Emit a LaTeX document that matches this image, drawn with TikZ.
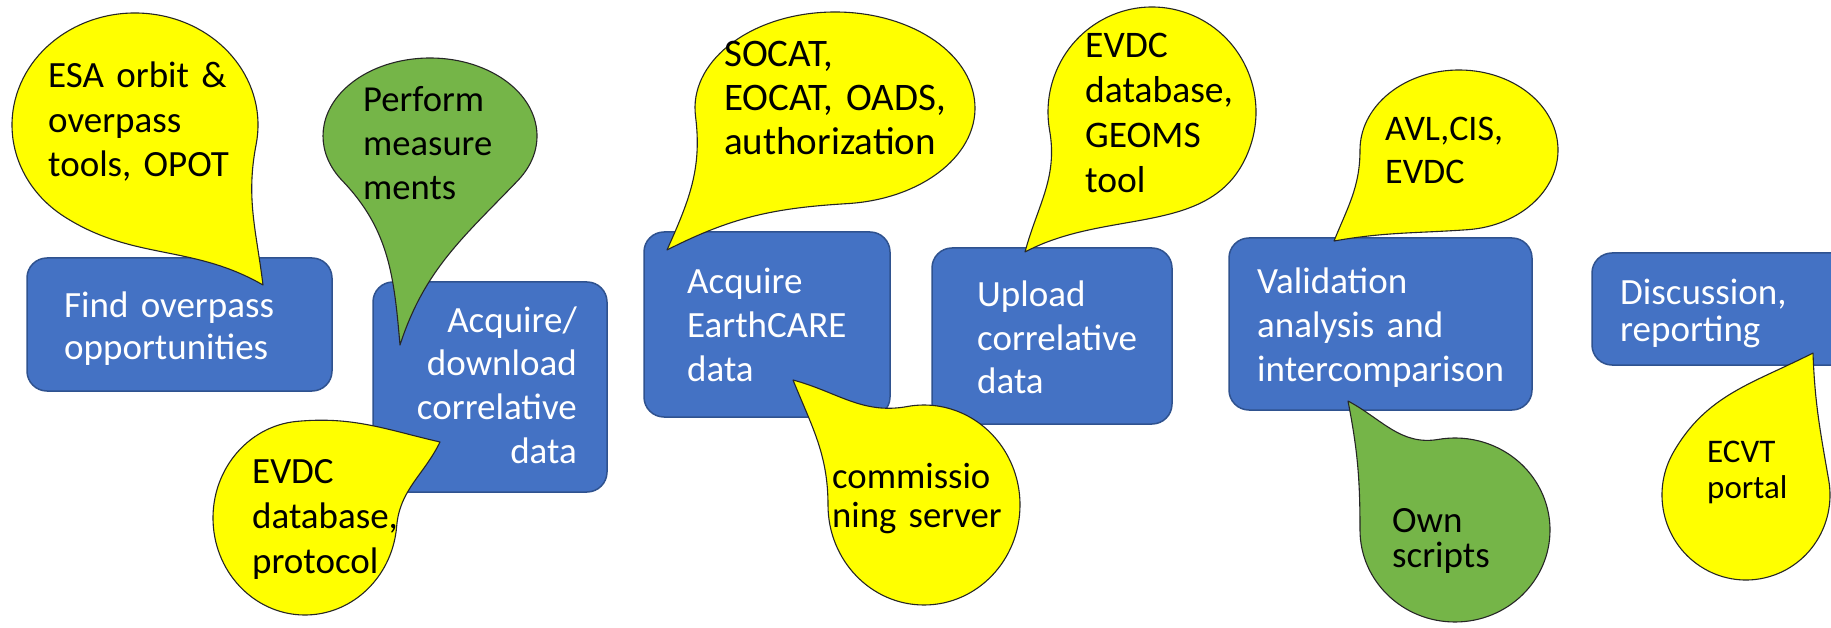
\documentclass[tikz,border=0pt]{standalone}
\usepackage{fontspec}
\setmainfont{Carlito}
\usetikzlibrary{calc,fit}
\definecolor{boxblue}{HTML}{4472C4}
\definecolor{boxedge}{HTML}{2F528F}
\definecolor{calloutyellow}{HTML}{FFFF00}
\definecolor{calloutgreen}{HTML}{75B548}
\newcommand\teardrop[9]{%
  \pgfmathsetmacro\tdin{atan2(#4*cos(#6),-#3*sin(#6))+180}%
  \pgfmathsetmacro\tdout{atan2(#4*cos(#7),-#3*sin(#7))}%
  \path[#1] (#5) to[out=#8,in=\tdin] ($(#2)+(#6:#3pt and #4pt)$)
    arc[start angle=#6,end angle=#7,x radius=#3pt,y radius=#4pt]
    to[out=\tdout,in=#9] (#5) -- cycle;}
\tikzset{
  procbox/.style={inner sep=0pt, rounded corners=20pt, fill=boxblue,
    draw=boxedge, line width=1.5pt},
  boxtext/.style 2 args={inner sep=0pt, text=white, text width=400pt,
    font=\fontsize{#1}{#2}\selectfont},
  calltext/.style 2 args={inner sep=0pt, text=black, text width=400pt,
    align=left, font=\fontsize{#1}{#2}\selectfont},
  yellowdrop/.style={fill=calloutyellow, draw=black!85, line width=1.1pt, line join=round},
  greendrop/.style={fill=calloutgreen, draw=black!85, line width=1.1pt, line join=round},
}
\begin{document}
\begin{tikzpicture}[x=1pt,y=1pt]
\useasboundingbox (0,0) rectangle (1831,-628);
\fill[white] (0,0) rectangle (1831,-628);

% process boxes
\node[procbox, fit={(27,-258) (332,-391)}] (b1) {};
\node[procbox, fit={(373,-282) (607,-492)}] (b2) {};
\node[procbox, fit={(644,-232) (890,-417)}] (b3) {};
\node[procbox, fit={(932,-248) (1172,-424)}] (b4) {};
\node[procbox, fit={(1229,-238) (1532,-410)}] (b5) {};
\node[procbox, fit={(1592,-253) (1870,-365)}] (b6) {};

\node[boxtext={37}{42}, align=left, anchor=base west] (b1t) at (64,-318) {Find overpass\\opportunities};
\node[boxtext={37}{43.7}, align=right, anchor=base east] (b2t) at (577,-332) {Acquire/\\download\\correlative\\data};
\node[boxtext={37}{44}, align=left, anchor=base west] (b3t) at (687,-294) {Acquire\\EarthCARE\\data};
\node[boxtext={37}{44}, align=left, anchor=base west] (b4t) at (977,-306) {Upload\\correlative\\data};
\node[boxtext={37}{44}, align=left, anchor=base west] (b5t) at (1257,-294) {Validation\\analysis and\\intercomparison};
\node[boxtext={37}{37}, align=left, anchor=base west] (b6t) at (1620,-305) {Discussion,\\reporting};

% callout anchors
\coordinate (c1c) at (135,-125);  \coordinate (c1tip) at (263,-285);
\coordinate (c2c) at (430,-136);  \coordinate (c2tip) at (400,-345);
\coordinate (c3c) at (305,-518);  \coordinate (c3tip) at (440,-442);
\coordinate (c4c) at (835,-108);  \coordinate (c4tip) at (667,-250);
\coordinate (c5c) at (924,-505);  \coordinate (c5tip) at (793,-380);
\coordinate (c6c) at (1152,-112); \coordinate (c6tip) at (1025,-252);
\coordinate (c7c) at (1459,-150); \coordinate (c7tip) at (1334,-241);
\coordinate (c8c) at (1455,-530); \coordinate (c8tip) at (1348,-401);
\coordinate (c9c) at (1746,-495); \coordinate (c9tip) at (1813,-353);

% callout shapes
\teardrop{yellowdrop}{c1c}{123}{112}{c1tip}{-10}{235}{97}{150}
\teardrop{greendrop}{c2c}{107}{78}{c2tip}{-35}{215}{72}{95}
\teardrop{yellowdrop}{c3c}{92}{97}{c3tip}{95}{355}{167}{244}
\teardrop{yellowdrop}{c4c}{140}{96}{c4tip}{275}{545}{27}{66}
\teardrop{yellowdrop}{c5c}{96}{100}{c5tip}{180}{460}{292}{345}
\teardrop{yellowdrop}{c6c}{104}{105}{c6tip}{-20}{190}{28}{75}
\teardrop{yellowdrop}{c7c}{99}{80}{c7tip}{275}{540}{10}{68}
\teardrop{greendrop}{c8c}{95}{92}{c8tip}{180}{460}{281}{332}
\teardrop{yellowdrop}{c9c}{84}{85}{c9tip}{150}{370}{207}{272}

% callout texts
\node[calltext={37}{44.5}, anchor=base west] (c1t) at (48,-88) {ESA orbit \&\\overpass\\tools, OPOT};
\node[calltext={36.6}{44}, anchor=base west] (c2t) at (363,-112) {Perform\\measure\\ments};
\node[calltext={37}{45}, anchor=base west] (c3t) at (252,-483) {EVDC\\database,\\protocol};
\node[calltext={39}{44}, anchor=base west] (c4t) at (724,-67) {SOCAT,\\EOCAT, OADS,\\authorization};
\node[calltext={36.7}{39}, anchor=base west] (c5t) at (832,-488) {commissio\\ning server};
\node[calltext={37.5}{44.7}, anchor=base west] (c6t) at (1085,-58) {EVDC\\database,\\GEOMS\\tool};
\node[calltext={36}{43}, anchor=base west] (c7t) at (1385,-141) {AVL,CIS,\\EVDC};
\node[calltext={37}{35}, anchor=base west] (c8t) at (1392,-532) {Own\\scripts};
\node[calltext={33}{36}, anchor=base west] (c9t) at (1707,-462) {ECVT\\portal};
\end{tikzpicture}
\end{document}
